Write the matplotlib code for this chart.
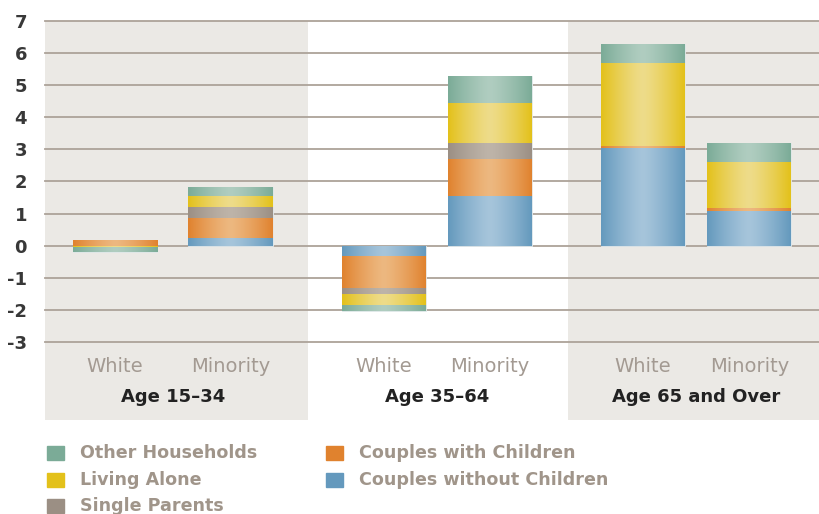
import numpy as np
import matplotlib.pyplot as plt
from matplotlib.colors import LinearSegmentedColormap, to_rgb
from matplotlib.patches import Rectangle

plt.rcParams['axes.unicode_minus'] = False

# data (change in households, millions)
groups = ["Age 15\u201334", "Age 35\u201364", "Age 65 and Over"]
races = ["White", "Minority"]
series = ["Couples without Children", "Couples with Children", "Single Parents",
          "Living Alone", "Other Households"]
couples_no_kids = [0.0, 0.23, -0.31, 1.56, 3.05, 1.09]
couples_kids = [0.18, 0.62, -1.00, 1.15, 0.07, 0.09]
single_parents = [0.0, 0.36, -0.20, 0.50, 0.0, 0.0]
living_alone = [-0.03, 0.34, -0.34, 1.24, 2.57, 1.42]
other = [-0.18, 0.29, -0.17, 0.83, 0.58, 0.61]
values = [couples_no_kids, couples_kids, single_parents, living_alone, other]

edge_cols = ["#6499bd", "#e0822e", "#9b8f84", "#e3c11a", "#7bab97"]
mid_cols = ["#a6c5db", "#edb880", "#beb4a9", "#eedc8a", "#b0cdc0"]

# layout (x units = 100 px)
bar_x = np.array([0.70, 1.855, 3.39, 4.45, 5.98, 7.045])
bar_w = 0.84
panel_edges = [0.0, 2.63, 5.23, 7.75]
panel_bg = "#ebe9e5"
grid_col = "#aca399"

fig = plt.figure(figsize=(8.2, 5.14), dpi=100)
ax = fig.add_axes([45/820, 94/514, 775/820, 399/514])

ax.axvspan(panel_edges[0], panel_edges[1], color=panel_bg, zorder=0, lw=0)
ax.axvspan(panel_edges[2], panel_edges[3], color=panel_bg, zorder=0, lw=0)

for t in range(-3, 8):
    ax.axhline(t, color=grid_col, lw=1.3, zorder=1, clip_on=False)

pos = np.zeros(len(bar_x))
neg = np.zeros(len(bar_x))
grad_x = np.abs(np.linspace(-1, 1, 200)) ** 1.3
for vals, ec, mc in zip(values, edge_cols, mid_cols):
    vals = np.array(vals)
    bottoms = np.where(vals >= 0, pos, neg)
    bars = ax.bar(bar_x, vals, bar_w, bottom=bottoms, color=ec,
                  edgecolor="#e8eef0", linewidth=0.6, zorder=2)
    pos = pos + np.where(vals > 0, vals, 0)
    neg = neg + np.where(vals < 0, vals, 0)
    cmap = LinearSegmentedColormap.from_list("g", [to_rgb(mc), to_rgb(ec)])
    for rect in bars:
        h = rect.get_height()
        if h == 0:
            continue
        x0 = rect.get_x()
        y0 = rect.get_y()
        im = ax.imshow(grad_x[None, :], cmap=cmap, vmin=0, vmax=1, aspect="auto",
                       extent=[x0, x0 + rect.get_width(), y0, y0 + h],
                       zorder=2.5, interpolation="bilinear")
        im.set_clip_path(rect)

ax.set_xlim(0, 7.75)
ax.set_ylim(-5.43, 7)
ax.set_yticks(range(-3, 8))
ax.set_xticks([])
ax.tick_params(axis="y", length=0, pad=13)
for lab in ax.get_yticklabels():
    lab.set_fontweight("bold")
    lab.set_fontsize(13)
    lab.set_color("#383838")
for s in ax.spines.values():
    s.set_visible(False)

for i, x in enumerate(bar_x):
    ax.text(x, -3.77, races[i % 2], ha="center", va="center",
            fontsize=14, color="#a39a92")
for g in range(3):
    cx = (bar_x[2*g] + bar_x[2*g + 1]) / 2
    ax.text(cx, -4.7, groups[g], ha="center", va="center",
            fontsize=13, fontweight="bold", color="#222222")

# legend
legend_items = [(4, 0, 0), (3, 0, 1), (2, 0, 2), (1, 1, 0), (0, 1, 1)]
col_x = [47, 326]
row_y = [453, 480, 506]
for idx, c, r in legend_items:
    x = col_x[c]
    y = row_y[r]
    fig.add_artist(Rectangle((x/820, 1 - (y + 7)/514), 17/820, 14/514,
                             transform=fig.transFigure, color=edge_cols[idx]))
    fig.text((x + 33)/820, 1 - y/514, series[idx], ha="left", va="center",
             fontsize=12.6, fontweight="bold", color="#a0958a")

fig.savefig("out.png", dpi=100)
